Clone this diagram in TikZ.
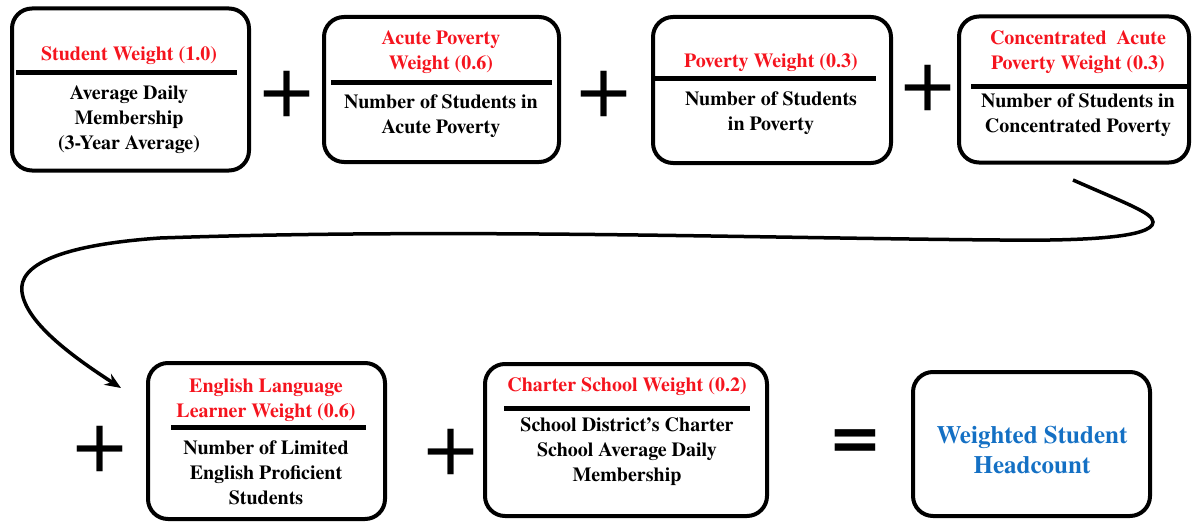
\documentclass[tikz,border=0pt]{standalone}
\usepackage{fontspec}
\setmainfont{texgyretermes}[Extension=.otf, UprightFont=*-regular, BoldFont=*-bold]
\usetikzlibrary{arrows.meta}
\definecolor{wred}{RGB}{245,20,30}
\definecolor{wblue}{RGB}{20,112,196}
\begin{document}
\begin{tikzpicture}[x=1pt,y=-1pt,
  box/.style={draw, line width=4pt, rounded corners=20pt, inner sep=0pt},
  ttl/.style={text=wred, font=\rmfamily\bfseries\fontsize{20}{25}\selectfont, align=center, inner sep=0pt},
  bdy/.style={text=black, font=\rmfamily\bfseries\fontsize{20}{25}\selectfont, align=center, inner sep=0pt},
  res/.style={text=wblue, font=\rmfamily\bfseries\fontsize{25}{30}\selectfont, align=center, inner sep=0pt},
  rulel/.style={line width=5pt},
  op/.style={font=\rmfamily\mdseries\fontsize{94}{94}\selectfont, inner sep=0pt},
  eqop/.style={font=\rmfamily\bfseries\fontsize{84}{84}\selectfont, inner sep=0pt},
  flow/.style={line width=3.5pt, -{Stealth[length=16pt,width=13pt]}}]
\useasboundingbox (0,0) rectangle (1193,524);

% boxes
\node[box, minimum width=237pt, minimum height=162pt] (b1) at (130.5,89.5) {};
\node[box, minimum width=235pt, minimum height=145pt] (b2) at (441.5,89.5) {};
\node[box, minimum width=238pt, minimum height=146pt] (b3) at (772,90) {};
\node[box, minimum width=230pt, minimum height=146pt] (b4) at (1074,89.5) {};
\node[box, minimum width=237pt, minimum height=156pt] (b5) at (266.5,441) {};
\node[box, minimum width=282pt, minimum height=152pt] (b6) at (626,440) {};
\node[box, minimum width=237pt, minimum height=144pt] (b7) at (1031.5,444) {};

% box 1
\node[ttl] (t1) at (129,56) {Student Weight (1.0)};
\draw[rulel] (16,73) -- (237,73);
\node[bdy] (d1) at (129,120) {Average Daily\\Membership\\(3-Year Average)};
% box 2
\node[ttl] (t2) at (441,52.5) {Acute Poverty\\Weight (0.6)};
\draw[rulel] (331,83) -- (552,83);
\node[bdy] (d2) at (441,116) {Number of Students in\\Acute Poverty};
% box 3
\node[ttl] (t3) at (771,63) {Poverty Weight (0.3)};
\draw[rulel] (655,79) -- (876,79);
\node[bdy] (d3) at (771,113) {Number of Students\\in Poverty};
% box 4
\node[ttl] (t4) at (1078,52.5) {Concentrated~ Acute\\Poverty Weight (0.3)};
\draw[rulel] (971,87) -- (1190,87);
\node[bdy] (d4) at (1078,115) {Number of Students in\\Concentrated Poverty};
% box 5
\node[ttl] (t5) at (266,400) {English Language\\Learner Weight (0.6)};
\draw[rulel] (171,427) -- (366,427);
\node[bdy] (d5) at (266,473) {Number of Limited\\English Proficient\\Students};
% box 6
\node[ttl] (t6) at (627,387) {Charter School Weight (0.2)};
\draw[rulel] (504,408) -- (750,408);
\node[bdy] (d6) at (627,452) {School District’s Charter\\School Average Daily\\Membership};
% box 7
\node[res] (d7) at (1032,450) {Weighted Student\\Headcount};

% operators
\node[op] (p1) at (287,94) {+};
\node[op] (p2) at (604,94) {+};
\node[op] (p3) at (928,88) {+};
\node[op] (p4) at (100,449) {+};
\node[op] (p5) at (451,452) {+};
\node[eqop] (eq) at (855,446) {=};

% connector
\coordinate (cs) at (1073,180);
\coordinate (ce) at (121,388);
\draw[flow] (cs) .. controls (1125,203) and (1153,213) .. (1153,222)
  .. controls (1153,238) and (1080,241) .. (1000,240)
  .. controls (750,238) and (450,228) .. (160,238)
  .. controls (60,245) and (18,265) .. (22,292)
  .. controls (26,322) and (70,355) .. (ce);
\end{tikzpicture}
\end{document}
